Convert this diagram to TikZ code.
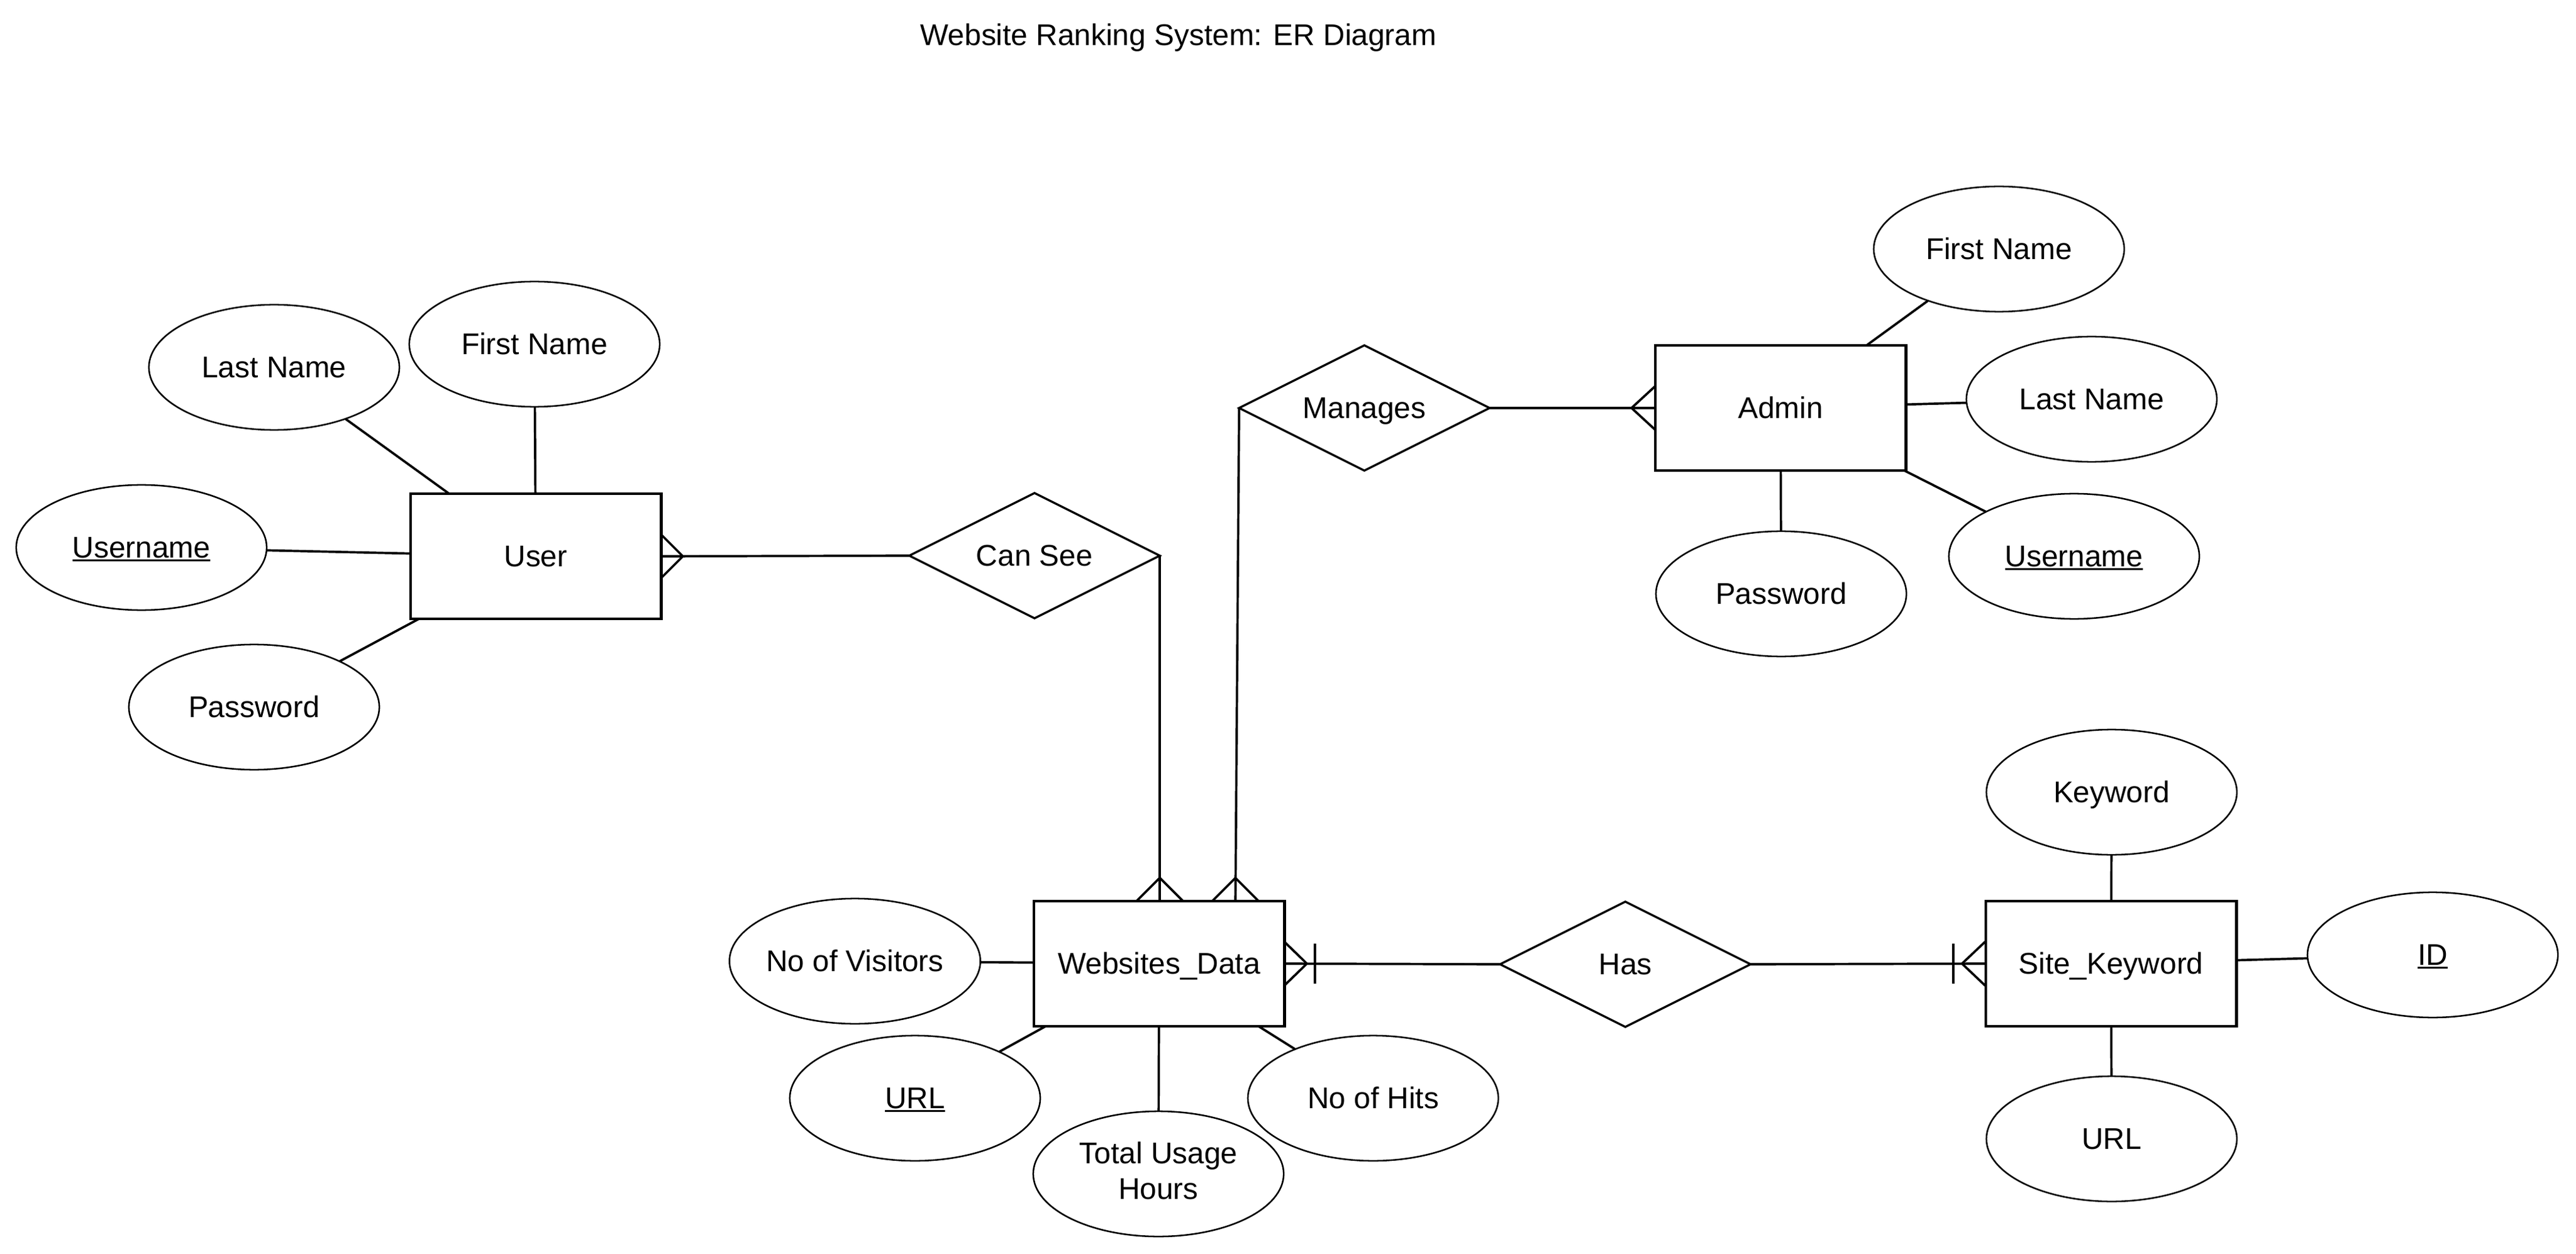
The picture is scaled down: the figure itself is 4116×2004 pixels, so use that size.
\documentclass[tikz,border=0pt]{standalone}
\usepackage{fontspec}
\setmainfont{Liberation Sans}
\usetikzlibrary{shapes.geometric,calc}
\newcommand{\st}{\rule[-0.212em]{0pt}{1.117em}}
\newcommand{\undl}[1]{\setbox0\hbox{#1}\rlap{\rule[-0.12em]{\wd0}{0.07em}}\box0}
\begin{document}
\begin{tikzpicture}[x=0.01cm,y=-0.01cm,
  every node/.style={font=\fontsize{13.6pt}{16.2pt}\selectfont, inner sep=0pt, outer sep=0pt},
  entity/.style={draw, line width=1.35pt, minimum width=4cm, minimum height=2cm, execute at begin node=\st},
  attr/.style={draw, ellipse, line width=0.72pt, minimum width=4cm, minimum height=2cm, execute at begin node=\st},
  rel/.style={draw, diamond, aspect=2, line width=0.95pt, minimum width=4cm, minimum height=2cm, execute at begin node=\st},
  conn/.style={line width=1.05pt},
]
\useasboundingbox (0,0) rectangle (4116,2004);

% title
\node[anchor=base] (title) at (1883,73) {Website Ranking System: ER Diagram};

% User
\node[entity] (user) at (856,889) {User};
\node[attr] (u_ln) at (438,587) {Last Name};
\node[attr] (u_fn) at (854,550) {First Name};
\node[attr] (u_un) at (226,875) {\undl{Username}};
\node[attr] (u_pw) at (406,1130) {Password};

% relationships
\node[rel] (cansee) at (1653,888) {Can See};
\node[rel] (manages) at (2180,652) {Manages};
\node[rel] (has) at (2597,1541) {Has};

% Admin
\node[entity] (admin) at (2845,652) {Admin};
\node[attr] (a_fn) at (3194,398) {First Name};
\node[attr] (a_ln) at (3342,638) {Last Name};
\node[attr] (a_un) at (3314,889) {\undl{Username}};
\node[attr] (a_pw) at (2846,949) {Password};

% Websites_Data
\node[entity] (wsd) at (1852,1540) {Websites\_Data};
\node[attr] (w_nv) at (1366,1536) {No of Visitors};
\node[attr] (w_url) at (1462,1755) {\undl{URL}};
\node[attr, align=center] (w_tu) at (1851,1876) {Total Usage\\\st Hours};
\node[attr] (w_nh) at (2194,1755) {No of Hits};

% Site_Keyword
\node[entity] (sk) at (3373,1540) {Site\_Keyword};
\node[attr] (s_kw) at (3374,1266) {Keyword};
\node[attr] (s_id) at (3887,1526) {\undl{ID}};
\node[attr] (s_url) at (3374,1820) {URL};

% attribute connectors
\draw[conn] (u_ln) -- (user);
\draw[conn] (u_fn) -- (user);
\draw[conn] (u_un) -- (user);
\draw[conn] (u_pw) -- (user);
\draw[conn] (a_fn) -- (admin);
\draw[conn] (a_ln) -- (admin);
\draw[conn] (a_un) -- (admin);
\draw[conn] (a_pw) -- (admin);
\draw[conn] (w_nv) -- (wsd);
\draw[conn] (w_url) -- (wsd);
\draw[conn] (w_tu) -- (wsd);
\draw[conn] (w_nh) -- (wsd);
\draw[conn] (s_kw) -- (sk);
\draw[conn] (s_id) -- (sk);
\draw[conn] (s_url) -- (sk);

% User -- Can See (many at User)
\draw[conn] (user.east) -- (cansee.west);
\draw[conn] ($(user.east)+(0,-35)$) -- ($(user.east)+(35,0)$) -- ($(user.east)+(0,35)$);

% Can See -- Websites_Data (many)
\coordinate (wsdA) at (cansee.east |- wsd.north);
\draw[conn] (cansee.east) -- (wsdA);
\draw[conn] ($(wsdA)+(-37,0)$) -- ($(wsdA)+(0,-37)$) -- ($(wsdA)+(37,0)$);

% Manages -- Websites_Data (many)
\coordinate (wsdB) at ($(wsd.north)+(122,0)$);
\draw[conn] (manages.west) -- (wsdB);
\draw[conn] ($(wsdB)+(-37,0)$) -- ($(wsdB)+(0,-37)$) -- ($(wsdB)+(37,0)$);

% Manages -- Admin (many)
\draw[conn] (manages.east) -- (admin.west);
\draw[conn] ($(admin.west)+(0,-35)$) -- ($(admin.west)+(-38,0)$) -- ($(admin.west)+(0,35)$);

% Websites_Data -- Has (one or many)
\draw[conn] (wsd.east) -- (has.west);
\draw[conn] ($(wsd.east)+(0,-35)$) -- ($(wsd.east)+(36,0)$) -- ($(wsd.east)+(0,35)$);
\draw[conn] ($(wsd.east)+(49,-32)$) -- ($(wsd.east)+(49,32)$);

% Has -- Site_Keyword (one or many)
\draw[conn] (has.east) -- (sk.west);
\draw[conn] ($(sk.west)+(0,-36)$) -- ($(sk.west)+(-38,0)$) -- ($(sk.west)+(0,36)$);
\draw[conn] ($(sk.west)+(-52,-32)$) -- ($(sk.west)+(-52,32)$);
\end{tikzpicture}
\end{document}
